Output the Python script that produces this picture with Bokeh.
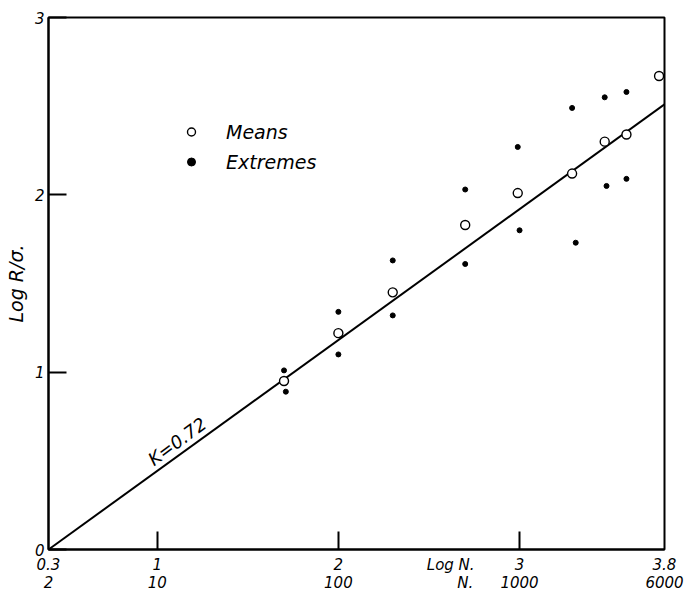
from bokeh.plotting import figure
from bokeh.models import (FixedTicker, LinearAxis, Label, Legend, LegendItem, Range1d)
from bokeh.embed import file_html
from bokeh.resources import INLINE

# ---- data ----
log_n_means = [1.70, 2.00, 2.30, 2.70, 2.99, 3.29, 3.47, 3.59, 3.77]
log_rs_means = [0.95, 1.22, 1.45, 1.83, 2.01, 2.12, 2.30, 2.34, 2.67]
log_n_ext_hi = [1.70, 2.00, 2.30, 2.70, 2.99, 3.29, 3.47, 3.59]
log_rs_ext_hi = [1.01, 1.34, 1.63, 2.03, 2.27, 2.49, 2.55, 2.58]
log_n_ext_lo = [1.71, 2.00, 2.30, 2.70, 3.00, 3.31, 3.48, 3.59]
log_rs_ext_lo = [0.89, 1.10, 1.32, 1.61, 1.80, 1.73, 2.05, 2.09]
fit_log_n = [0.4, 3.8]
fit_log_rs = [0.0, 2.51]
x_ticks = [0.4, 1, 2, 3, 3.8]
x_tick_labels_log = ["0.3", "1", "2", "3", "3.8"]
x_tick_labels_n = ["2", "10", "100", "1000", "6000"]
x_inner_ticks = [1, 2, 3]
x_title_log = ("Log N.", 2.62)
x_title_n = ("N.", 2.70)
y_ticks = [0, 1, 2, 3]
y_tick_labels = ["0", "1", "2", "3"]

FONT = "DejaVu Sans"

p = figure(width=688, height=594, x_range=Range1d(0.4, 3.8), y_range=Range1d(0, 3),
           output_backend="svg", toolbar_location=None,
           min_border_left=48, min_border_right=24, min_border_top=17, min_border_bottom=38,
           background_fill_color="white", border_fill_color="white")
p.grid.visible = False
p.outline_line_color = "black"
p.outline_line_width = 2

# x axis, first row of labels (Log N); tick marks drawn as minor ticks
row1_ticks = x_ticks + [x_title_log[1]]
row1_labels = x_tick_labels_log + [x_title_log[0]]
xa = p.xaxis[0]
xa.ticker = FixedTicker(ticks=row1_ticks, minor_ticks=x_inner_ticks)
xa.major_label_overrides = {t: s for t, s in zip(row1_ticks, row1_labels)}
xa.major_tick_line_color = None
xa.major_tick_in = 0
xa.major_tick_out = 0
xa.minor_tick_line_color = "black"
xa.minor_tick_line_width = 2
xa.minor_tick_in = 18
xa.minor_tick_out = 0
xa.axis_line_color = "black"
xa.axis_line_width = 2
xa.major_label_standoff = 6
xa.major_label_text_font = FONT
xa.major_label_text_font_style = "italic"
xa.major_label_text_font_size = "15px"
xa.major_label_text_color = "black"

# second row of x labels (N)
row2_ticks = x_ticks + [x_title_n[1]]
row2_labels = x_tick_labels_n + [x_title_n[0]]
xa2 = LinearAxis(ticker=FixedTicker(ticks=row2_ticks),
                 major_label_overrides={t: s for t, s in zip(row2_ticks, row2_labels)})
xa2.axis_line_color = None
xa2.major_tick_line_color = None
xa2.minor_tick_line_color = None
xa2.major_tick_in = 0
xa2.major_tick_out = 0
xa2.minor_tick_in = 0
xa2.minor_tick_out = 0
xa2.major_label_standoff = -3
xa2.major_label_text_font = FONT
xa2.major_label_text_font_style = "italic"
xa2.major_label_text_font_size = "15px"
xa2.major_label_text_color = "black"
p.add_layout(xa2, "below")

# y axis
ya = p.yaxis[0]
ya.ticker = FixedTicker(ticks=y_ticks)
ya.major_label_overrides = {t: s for t, s in zip(y_ticks, y_tick_labels)}
ya.major_tick_in = 18
ya.major_tick_out = 0
ya.minor_tick_line_color = None
ya.axis_line_color = "black"
ya.axis_line_width = 2
ya.major_tick_line_color = "black"
ya.major_tick_line_width = 2
ya.major_label_standoff = 4
ya.major_label_text_font = FONT
ya.major_label_text_font_style = "italic"
ya.major_label_text_font_size = "15px"
ya.major_label_text_color = "black"
ya.axis_label = "Log R/σ."
ya.axis_label_text_font = FONT
ya.axis_label_text_font_style = "italic"
ya.axis_label_text_font_size = "19px"
ya.axis_label_text_color = "black"
ya.axis_label_standoff = 5

# fitted line
p.line(fit_log_n, fit_log_rs, line_color="black", line_width=2)

# points
r_hi = p.scatter(log_n_ext_hi, log_rs_ext_hi, marker="circle", size=5,
                 fill_color="black", line_color="black")
p.scatter(log_n_ext_lo, log_rs_ext_lo, marker="circle", size=5,
          fill_color="black", line_color="black")
r_means = p.scatter(log_n_means, log_rs_means, marker="circle", size=9,
                    fill_color="white", line_color="black", line_width=1.4)

legend = Legend(items=[LegendItem(label="Means", renderers=[r_means]),
                       LegendItem(label="Extremes", renderers=[r_hi])],
                location=(133, 374), border_line_color=None, background_fill_alpha=0,
                padding=0, margin=0, spacing=3, label_height=27, glyph_height=27,
                glyph_width=20, label_standoff=25,
                label_text_font=FONT, label_text_font_style="italic",
                label_text_font_size="19px", label_text_baseline="middle",
                label_text_color="black")
p.add_layout(legend, "center")

# slope annotation along the line
p.add_layout(Label(x=1.11, y=0.61, text="K=0.72", angle=0.637, text_align="center",
                   text_baseline="middle", text_font=FONT, text_font_style="italic",
                   text_font_size="18px", text_color="black"))

open("out.html", "w").write(file_html(p, INLINE))
